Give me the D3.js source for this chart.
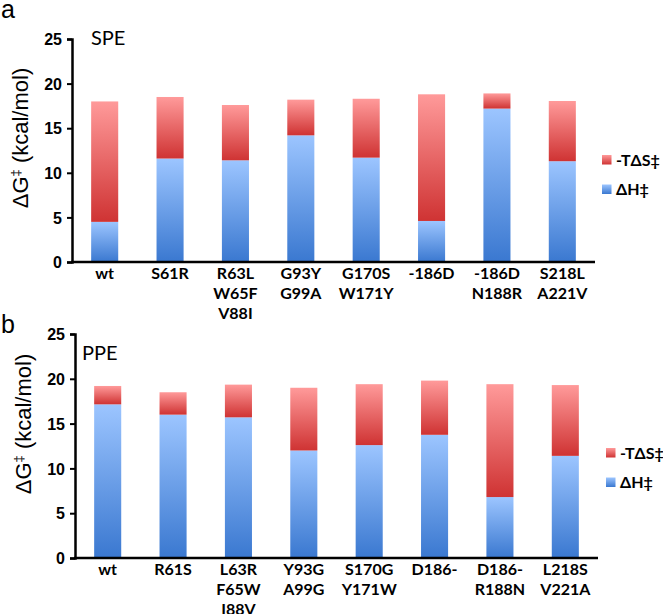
<!DOCTYPE html>
<html>
<head>
<meta charset="utf-8">
<script src="https://cdn.jsdelivr.net/npm/d3@7"></script>
<style>
  body { margin: 0; background: #fff; }
  .tick text { font-family: "Liberation Sans", Arial, sans-serif; font-weight: bold; font-size: 16px; }
  .xlab { font-family: Lato, "Open Sans", sans-serif; font-weight: bold; font-size: 16px; }
  .leg { font-family: Lato, "Open Sans", sans-serif; font-weight: bold; font-size: 16px; }
</style>
</head>
<body>
<div id="chart"></div>
<script>
// mutants, one line per label row
var spe_labels = ["wt", "S61R", "R63L W65F V88I", "G93Y G99A", "G170S W171Y", "-186D", "-186D N188R", "S218L A221V"];
var ppe_labels = ["wt", "R61S", "L63R F65W I88V", "Y93G A99G", "S170G Y171W", "D186-", "D186- R188N", "L218S V221A"];

// kcal/mol
var spe_dH = [4.5, 11.6, 11.4, 14.2, 11.7, 4.6, 17.2, 11.3];
var spe_TdS = [13.5, 6.9, 6.2, 4.0, 6.6, 14.2, 1.7, 6.75];
var ppe_dH = [17.15, 16.0, 15.7, 12.0, 12.6, 13.75, 6.8, 11.4];
var ppe_TdS = [2.05, 2.5, 3.65, 7.0, 6.8, 6.05, 12.6, 7.9];

var y_ticks = [0, 5, 10, 15, 20, 25];
var legend_labels = ["-T\u0394S\u2021", "\u0394H\u2021"];

var width = 663, height = 614;

var svg = d3.select("#chart").append("svg")
  .attr("width", width)
  .attr("height", height);

var defs = svg.append("defs");
function add_grad(id, top, bottom){
  var g = defs.append("linearGradient").attr("id", id)
    .attr("x1", 0).attr("y1", 0).attr("x2", 0).attr("y2", 1);
  g.append("stop").attr("offset", "0%").attr("stop-color", top);
  g.append("stop").attr("offset", "100%").attr("stop-color", bottom);
}
add_grad("g_blue", "#9cc5ff", "#3a78d0");
add_grad("g_red", "#ff9a9a", "#cf3333");
var fills = {dH: "url(#g_blue)", TdS: "url(#g_red)"};

function draw_panel(p){
  var g = svg.append("g");

  var x = d3.scaleBand().domain(p.labels)
    .range([p.x0, p.x1]).paddingInner(0.586).paddingOuter(0.293);
  var y = d3.scaleLinear().domain([0, 25]).range([p.y0, p.y25]);

  var rows = p.labels.map(function(l, i){ return {label: l, dH: p.dH[i], TdS: p.TdS[i]}; });
  var stacked = d3.stack().keys(["dH", "TdS"])(rows);

  g.selectAll("g.layer").data(stacked).enter().append("g")
    .attr("class", "layer")
    .attr("fill", function(d){ return fills[d.key]; })
    .selectAll("rect").data(function(d){ return d; }).enter().append("rect")
    .attr("x", function(d){ return x(d.data.label); })
    .attr("width", x.bandwidth())
    .attr("y", function(d){ return y(d[1]); })
    .attr("height", function(d){ return y(d[0]) - y(d[1]); });

  // y axis
  var ya = g.append("g").attr("transform", "translate(" + p.x0 + ",0)")
    .call(d3.axisLeft(y).tickValues(y_ticks).tickSize(5).tickPadding(5));
  ya.select(".domain").attr("stroke", "#000").attr("stroke-width", 2.5);
  ya.selectAll(".tick line").attr("stroke", "#000").attr("stroke-width", 2);
  ya.selectAll(".tick text").attr("fill", "#000").attr("dy", "0.36em");

  // x axis, no ticks
  var xa = g.append("g").attr("transform", "translate(0," + p.y0 + ")")
    .call(d3.axisBottom(x).tickSize(0).tickFormat(""));
  xa.select(".domain").attr("stroke", "#000").attr("stroke-width", 2.5)
    .attr("d", "M" + (p.x0 - 1) + ",0H" + p.x1);

  g.selectAll("text.xlab").data(p.labels).enter().append("text")
    .attr("class", "xlab")
    .attr("text-anchor", "middle")
    .attr("x", function(d){ return x(d) + x.bandwidth() / 2; })
    .attr("y", p.y0 + 17)
    .each(function(d){
      var t = d3.select(this);
      d.split(" ").forEach(function(s, k){
        t.append("tspan").attr("x", x(d) + x.bandwidth() / 2)
          .attr("dy", k == 0 ? 0 : 20).text(s);
      });
    });

  // y title
  var yt = g.append("text")
    .attr("transform", "translate(" + p.title_x + "," + p.title_y + ") rotate(-90)")
    .attr("text-anchor", "middle")
    .style("font-family", "'Liberation Sans', Arial, sans-serif")
    .style("font-size", "22px");
  yt.append("tspan").text("\u0394G");
  yt.append("tspan").attr("dy", -8).style("font-size", "13px").text("\u2021");
  yt.append("tspan").attr("dy", 8).text(" (kcal/mol)");

  g.append("text").attr("x", p.name_x).attr("y", p.name_y)
    .style("font-family", "Lato, 'Open Sans', sans-serif").style("font-size", "20px")
    .text(p.name);

  g.append("text").attr("x", 1).attr("y", p.letter_y)
    .style("font-family", "'Liberation Sans', Arial, sans-serif").style("font-size", "25px")
    .text(p.letter);

  // legend
  var lg = g.selectAll("g.leg").data(legend_labels).enter().append("g")
    .attr("transform", function(d, i){ return "translate(" + p.leg_x + "," + (p.leg_y + i * 29.5) + ")"; });
  lg.append("rect").attr("width", 9.5).attr("height", 9.5)
    .attr("fill", function(d, i){ return i == 0 ? fills.TdS : fills.dH; });
  lg.append("text").attr("class", "leg").attr("x", 14).attr("y", 10.5).text(function(d){ return d; });
}

draw_panel({labels: spe_labels, dH: spe_dH, TdS: spe_TdS,
  x0: 72, x1: 595, y0: 262, y25: 39,
  title_x: 28, title_y: 138, name: "SPE", name_x: 91, name_y: 45,
  letter: "a", letter_y: 18, leg_x: 602, leg_y: 155});

draw_panel({labels: ppe_labels, dH: ppe_dH, TdS: ppe_TdS,
  x0: 75, x1: 598, y0: 558, y25: 334,
  title_x: 31, title_y: 424, name: "PPE", name_x: 82, name_y: 360,
  letter: "b", letter_y: 333, leg_x: 606, leg_y: 448});
</script>
</body>
</html>
